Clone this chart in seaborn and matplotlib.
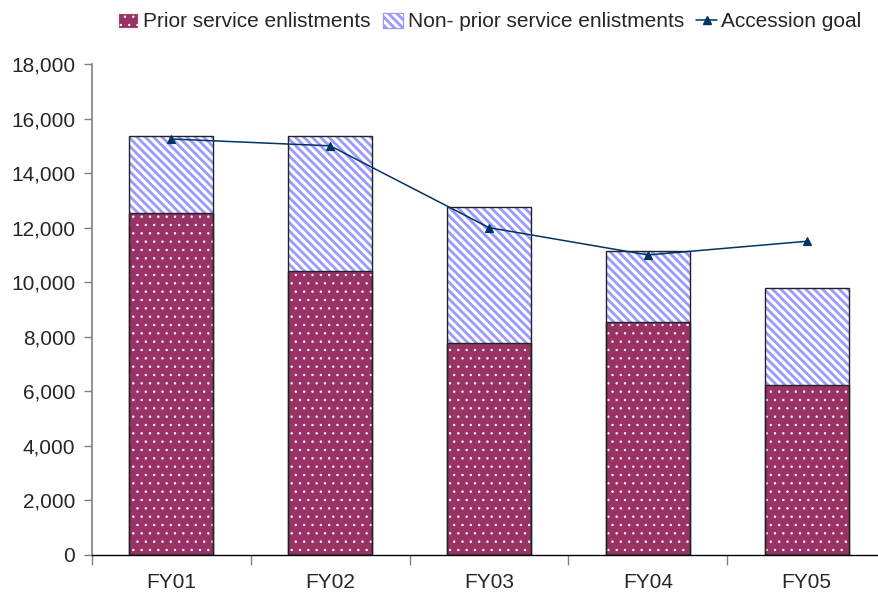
import matplotlib
matplotlib.use("Agg")
import matplotlib.pyplot as plt
from matplotlib.patches import Patch, Rectangle
from matplotlib.lines import Line2D
from matplotlib.ticker import FuncFormatter, FixedLocator
import seaborn as sns

# Enlistment data by fiscal year
years = ["FY01", "FY02", "FY03", "FY04", "FY05"]
prior_service = [12530, 10400, 7780, 8530, 6250]
non_prior_service = [2830, 4960, 4980, 2620, 3520]
accession_goal = [15250, 15000, 12000, 11000, 11500]

totals = [p + n for p, n in zip(prior_service, non_prior_service)]

PRIOR_COLOR = "#993366"
STRIPE_COLOR = "#9999FF"
GOAL_COLOR = "#003366"
FS = 15
STRIPES = "\\" * 4

sns.set_theme(style="white")
plt.rcParams["font.family"] = ["Liberation Sans", "DejaVu Sans"]
plt.rcParams["font.size"] = FS

fig = plt.figure(figsize=(8.79, 5.94), dpi=100)
W, H = 879, 594
ax = fig.add_axes([92 / W, (H - 555) / H, 794 / W, (555 - 64) / H])

bar_w = 0.53


def set_hatch_lw(patches, lw):
    for p in patches:
        if hasattr(p, "set_hatch_linewidth"):
            p.set_hatch_linewidth(lw)


# Upper (non-prior) segment: full stack height with diagonal stripes
plt.rcParams["hatch.linewidth"] = 2.0
sns.barplot(x=years, y=totals, color="white", width=bar_w, ax=ax,
            saturation=1, edgecolor=STRIPE_COLOR, linewidth=0,
            hatch=STRIPES)
stripe_patches = list(ax.patches)
set_hatch_lw(stripe_patches, 2.0)

# Lower (prior service) segment with white dots
plt.rcParams["hatch.linewidth"] = 0.5
sns.barplot(x=years, y=prior_service, color=PRIOR_COLOR, width=bar_w, ax=ax,
            saturation=1, edgecolor="white", linewidth=0, hatch="..")
dot_patches = list(ax.patches)[len(stripe_patches):]
set_hatch_lw(dot_patches, 0.5)

# Outlines around each segment
for vals in (totals, prior_service):
    sns.barplot(x=years, y=vals, width=bar_w, ax=ax, fill=False,
                edgecolor="#222222", linewidth=1.0)

# Accession goal line
sns.pointplot(x=years, y=accession_goal, color=GOAL_COLOR, markers="^",
              markersize=6, linewidth=1.1, ax=ax)

ax.set_xlim(-0.5, 4.5)
ax.set_ylim(0, 18000)
ax.set_yticks(range(0, 18001, 2000))
ax.yaxis.set_major_formatter(FuncFormatter(lambda v, _: f"{int(v):,}"))
ax.xaxis.set_major_locator(FixedLocator([i - 0.5 for i in range(6)]))
ax.xaxis.set_major_formatter(FuncFormatter(lambda v, _: ""))
ax.set_xticks(range(5), years, minor=True)
ax.set_xlabel("")
ax.set_ylabel("")

for s in ("top", "right"):
    ax.spines[s].set_visible(False)
ax.spines["left"].set_color("#808080")
ax.spines["left"].set_linewidth(1.2)
ax.spines["bottom"].set_color("black")
ax.spines["bottom"].set_linewidth(1.0)

ax.tick_params(axis="y", which="major", direction="out", length=6, width=1,
               color="#808080", labelsize=FS, pad=6, left=True)
ax.tick_params(axis="x", which="major", direction="out", length=7, width=1,
               color="#808080", bottom=True)
ax.tick_params(axis="x", which="minor", length=0, labelsize=FS, pad=13)

handles = [
    Patch(facecolor=PRIOR_COLOR, edgecolor="#222222", linewidth=0.8),
    Patch(facecolor="white", edgecolor="#222222", linewidth=0.8),
    Line2D([], [], color=GOAL_COLOR, marker="^", markersize=6, linewidth=1.1),
]
labels = ["Prior service enlistments", "Non- prior service enlistments",
          "Accession goal"]
leg = fig.legend(handles, labels, loc="center", bbox_to_anchor=(0.557, 0.963),
                 ncol=3, frameon=False, fontsize=FS, handlelength=1.0,
                 handleheight=0.75, handletextpad=0.2, columnspacing=0.6,
                 borderaxespad=0)
# Legend swatches carry the same fills as the bars
leg_patches = leg.get_patches()
leg_patches[0].set_hatch("..")
leg_patches[0].set_edgecolor("white")
set_hatch_lw([leg_patches[0]], 0.5)
leg_patches[1].set_hatch(STRIPES)
leg_patches[1].set_edgecolor(STRIPE_COLOR)
set_hatch_lw([leg_patches[1]], 2.0)

# Dark outline drawn over each legend swatch once the legend is laid out
fig.canvas.draw()
renderer = fig.canvas.get_renderer()
for p in leg_patches:
    bb = p.get_window_extent(renderer)
    fig.patches.append(Rectangle(
        (bb.x0 / W, bb.y0 / H), bb.width / W, bb.height / H,
        transform=fig.transFigure, fill=False, edgecolor="#222222",
        linewidth=0.8, figure=fig))

fig.savefig("out.png", dpi=100)
